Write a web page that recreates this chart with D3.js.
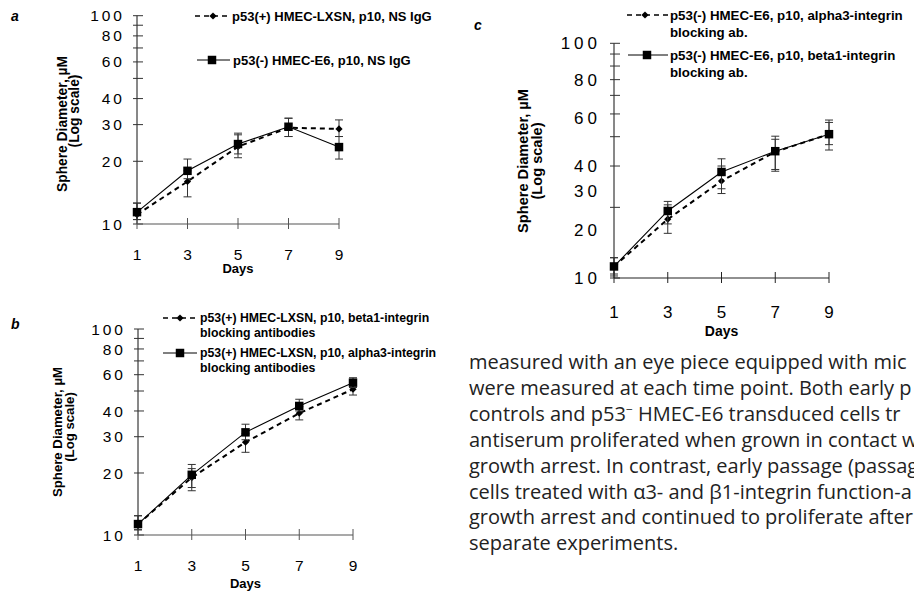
<!DOCTYPE html>
<html>
<meta charset="utf-8">
<title>Sphere diameter, log scale</title>
<script src="https://d3js.org/d3.v7.min.js"></script>
<style>
body { margin: 0; background: #fff; }
svg { display: block; font-family: "Liberation Sans", Arial, sans-serif; }
.tick-lab { fill: #000; }
.title { font-weight: bold; }
.leg { font-weight: bold; }
.body-text { font-family: "Open Sans", Lato, sans-serif; fill: #222; }
</style>
<body>
<svg width="914" height="593"></svg>
<script>
// ---- data ----
var days = [1, 3, 5, 7, 9];
var yTicks = [10, 20, 30, 40, 50, 60, 70, 80, 90, 100];
var yTickLabels = ["10", "20", "30", "40", "60", "80", "100"];
var yLabelAt = [10, 20, 30, 40, 60, 80, 100];
// panel c prints its labels off the tick marks; these are where they sit
var yLabelAtC = [10, 16, 23.5, 30, 48, 70, 100];

// panel a
var aPlus   = [11.1, 16.0, 23.5, 29.0, 28.6];
var aPlusLo = [10.5, 13.5, 21.7, 26.3, 26.3];
var aPlusHi = [12.6, 18.0, 26.8, 32.2, 31.6];
var aMinus   = [11.4, 18.0, 24.2, 29.3, 23.4];
var aMinusLo = [10.5, 16.5, 20.8, 26.3, 20.5];
var aMinusHi = [12.6, 20.5, 27.3, 32.2, 26.3];

// panel b
var bBeta1   = [11.3, 19.0, 28.2, 39.0, 51.0];
var bBeta1Lo = [10.6, 16.4, 25.2, 36.2, 47.8];
var bBeta1Hi = [12.4, 21.0, 31.0, 42.0, 54.0];
var bAlpha3   = [11.3, 19.6, 31.5, 42.3, 54.9];
var bAlpha3Lo = [10.6, 17.0, 29.0, 40.0, 52.0];
var bAlpha3Hi = [12.4, 22.0, 34.5, 45.6, 58.0];

// panel c
var cAlpha3   = [11.2, 17.8, 25.9, 34.5, 41.0];
var cAlpha3Lo = [10.2, 15.5, 22.9, 28.5, 35.1];
var cAlpha3Hi = [12.2, 20.5, 30.0, 39.0, 46.0];
var cBeta1   = [11.2, 19.3, 28.3, 34.7, 41.0];
var cBeta1Lo = [10.4, 17.0, 24.0, 29.0, 37.0];
var cBeta1Hi = [12.2, 21.2, 32.2, 40.2, 47.1];

var legA = [["p53(+) HMEC-LXSN, p10, NS IgG"], ["p53(-) HMEC-E6, p10, NS IgG"]];
var legB = [["p53(+) HMEC-LXSN, p10, beta1-integrin", "blocking antibodies"],
            ["p53(+) HMEC-LXSN, p10, alpha3-integrin", "blocking antibodies"]];
var legC = [["p53(-) HMEC-E6, p10, alpha3-integrin", "blocking ab."],
            ["p53(-) HMEC-E6, p10, beta1-integrin", "blocking ab."]];

var bodyLines = [
  "measured with an eye piece equipped with mic",
  "were measured at each time point. Both early p",
  ["controls and p53", "\u2212", " HMEC-E6 transduced cells tr"],
  "antiserum proliferated when grown in contact w",
  "growth arrest. In contrast, early passage (passage",
  "cells treated with \u03b13- and \u03b21-integrin function-a",
  "growth arrest and continued to proliferate after c",
  "separate experiments."
];

var svg = d3.select("svg");
svg.append("rect").attr("width", 914).attr("height", 593).attr("fill", "#fff");

function panel(c) {
  var x = d3.scaleLinear().domain([1, 9]).range([c.x0, c.x1]);
  var y = d3.scaleLog().domain([10, 100]).range([c.yb, c.yt]);
  var g = svg.append("g");

  // y axis
  g.append("line").attr("x1", c.x0).attr("x2", c.x0)
    .attr("y1", y(10)).attr("y2", y(100)).attr("stroke", "#111").attr("stroke-width", 1);
  g.selectAll(".yt").data(yTicks).join("line")
    .attr("x1", c.x0 - 4).attr("x2", c.x0 + 6)
    .attr("y1", function(d) { return y(d); }).attr("y2", function(d) { return y(d); })
    .attr("stroke", "#333").attr("stroke-width", 1);
  g.selectAll(".yl").data(c.labelAt).join("text")
    .attr("class", "tick-lab")
    .attr("x", c.x0 - c.labGap).attr("y", function(d) { return y(d); })
    .attr("dy", "0.36em").attr("text-anchor", "end")
    .style("font-size", c.tickFs + "px").style("letter-spacing", c.ls + "px")
    .text(function(d, i) { return yTickLabels[i]; });

  // x axis
  g.append("line").attr("x1", x(1)).attr("x2", x(9)).attr("y1", y(10)).attr("y2", y(10))
    .attr("stroke", c.xCol).attr("stroke-width", 1.2);
  g.selectAll(".xt").data(days).join("line")
    .attr("x1", function(d) { return x(d); }).attr("x2", function(d) { return x(d); })
    .attr("y1", y(10) - 6).attr("y2", y(10) + 5)
    .attr("stroke", c.xCol).attr("stroke-width", 1);
  g.selectAll(".xl").data(days).join("text")
    .attr("x", function(d) { return x(d); }).attr("y", c.xLabY)
    .attr("text-anchor", "middle").style("font-size", c.tickFs + "px")
    .text(function(d) { return d; });
  g.append("text").attr("class", "title").attr("x", x(5)).attr("y", c.daysY)
    .attr("text-anchor", "middle").style("font-size", c.daysFs + "px").text("Days");

  // y title
  g.append("text").attr("class", "title")
    .attr("transform", "translate(" + c.t1[0] + "," + c.t1[1] + ") rotate(-90)")
    .attr("text-anchor", "middle").style("font-size", c.titleFs + "px")
    .text("Sphere Diameter, \u00b5M");
  g.append("text").attr("class", "title")
    .attr("transform", "translate(" + c.t2[0] + "," + c.t2[1] + ") rotate(-90)")
    .attr("text-anchor", "middle").style("font-size", c.titleFs + "px")
    .text("(Log scale)");

  // panel letter
  g.append("text").attr("x", c.letter[0]).attr("y", c.letter[1])
    .style("font-weight", "bold").style("font-style", "italic").style("font-size", "14px")
    .text(c.name);

  var line = d3.line().x(function(d, i) { return x(days[i]); }).y(function(d) { return y(d); });
  var diamond = d3.symbol().type(d3.symbolSquare).size(26);
  var square = d3.symbol().type(d3.symbolSquare).size(72);

  c.series.forEach(function(s) {
    // error bars
    var eb = g.append("g");
    days.forEach(function(dd, i) {
      var xx = x(dd);
      eb.append("line").attr("x1", xx).attr("x2", xx)
        .attr("y1", y(s.lo[i])).attr("y2", y(s.hi[i]))
        .attr("stroke", "#333").attr("stroke-width", 1);
      [s.lo[i], s.hi[i]].forEach(function(v) {
        eb.append("line").attr("x1", xx - 4).attr("x2", xx + 4)
          .attr("y1", y(v)).attr("y2", y(v)).attr("stroke", "#333").attr("stroke-width", 1);
      });
    });
    g.append("path").datum(s.vals).attr("d", line).attr("fill", "none")
      .attr("stroke", "#000")
      .attr("stroke-width", s.dashed ? 2 : 1.1)
      .attr("stroke-dasharray", s.dashed ? "5,4" : null);
    g.selectAll(null).data(s.vals).join("path")
      .attr("transform", function(d, i) {
        return "translate(" + x(days[i]) + "," + y(d) + ")" + (s.dashed ? " rotate(45)" : "");
      })
      .attr("d", s.dashed ? diamond : square).attr("fill", "#000");
  });

  // legend
  c.legend.forEach(function(L, k) {
    var s = c.series[k];
    var ly = L.y;
    g.append("line").attr("x1", L.x0).attr("x2", L.x1).attr("y1", ly).attr("y2", ly)
      .attr("stroke", "#000").attr("stroke-width", s.dashed ? 1.6 : 1)
      .attr("stroke-dasharray", s.dashed ? "5,4" : null);
    g.append("path").attr("transform", "translate(" + L.m + "," + ly + ")" + (s.dashed ? " rotate(45)" : ""))
      .attr("d", s.dashed ? diamond : square).attr("fill", "#000");
    c.legText[k].forEach(function(t, j) {
      g.append("text").attr("class", "leg").attr("x", L.tx).attr("y", ly + j * c.legLh)
        .attr("dy", "0.35em").style("font-size", c.legFs + "px").text(t);
    });
  });
}

panel({
  name: "a", letter: [11, 21],
  x0: 137, x1: 339, yb: 224, yt: 15.7,
  labelAt: yLabelAt, labGap: 12, tickFs: 15.5, ls: 3, xCol: "#555",
  xLabY: 259.5, daysY: 273, daysFs: 13, titleFs: 13.8,
  t1: [67, 124], t2: [79, 111],
  series: [
    { vals: aPlus, lo: aPlusLo, hi: aPlusHi, dashed: true },
    { vals: aMinus, lo: aMinusLo, hi: aMinusHi, dashed: false }
  ],
  legend: [{ y: 16, x0: 195, x1: 230, m: 213, tx: 232 }, { y: 60, x0: 197, x1: 230, m: 212, tx: 233 }],
  legText: legA, legFs: 13, legLh: 15
});

panel({
  name: "b", letter: [11, 329],
  x0: 138, x1: 353, yb: 535, yt: 329,
  labelAt: yLabelAt, labGap: 12, tickFs: 15.5, ls: 3, xCol: "#555",
  xLabY: 571, daysY: 588, daysFs: 13, titleFs: 13.2,
  t1: [62, 432], t2: [74, 427],
  series: [
    { vals: bBeta1, lo: bBeta1Lo, hi: bBeta1Hi, dashed: true },
    { vals: bAlpha3, lo: bAlpha3Lo, hi: bAlpha3Hi, dashed: false }
  ],
  legend: [{ y: 318, x0: 163, x1: 197, m: 180, tx: 200 }, { y: 353, x0: 163, x1: 197, m: 180, tx: 200 }],
  legText: legB, legFs: 12.3, legLh: 15
});

panel({
  name: "c", letter: [474, 30],
  x0: 614, x1: 829, yb: 278, yt: 43.3,
  labelAt: yLabelAtC, labGap: 13, tickFs: 17, ls: 4, xCol: "#222",
  xLabY: 318, daysY: 336, daysFs: 14, titleFs: 14.6,
  t1: [528, 161], t2: [542, 161],
  series: [
    { vals: cAlpha3, lo: cAlpha3Lo, hi: cAlpha3Hi, dashed: true },
    { vals: cBeta1, lo: cBeta1Lo, hi: cBeta1Hi, dashed: false }
  ],
  legend: [{ y: 15, x0: 627, x1: 668, m: 645, tx: 670 }, { y: 55, x0: 628, x1: 668, m: 647, tx: 670 }],
  legText: legC, legFs: 13.3, legLh: 17
});

// body text beside panel b
var bt = svg.append("text").attr("class", "body-text")
  .style("font-size", "20px").style("letter-spacing", "0px");
bodyLines.forEach(function(l, i) {
  var t = bt.append("tspan").attr("x", 469).attr("y", 369 + i * 25.9);
  if (typeof l === "string") { t.text(l); }
  else {
    t.text(l[0]);
    bt.append("tspan").attr("dy", -7).style("font-size", "12px").text(l[1]);
    bt.append("tspan").attr("dy", 7).text(l[2]);
  }
});
</script>
</body>
</html>
